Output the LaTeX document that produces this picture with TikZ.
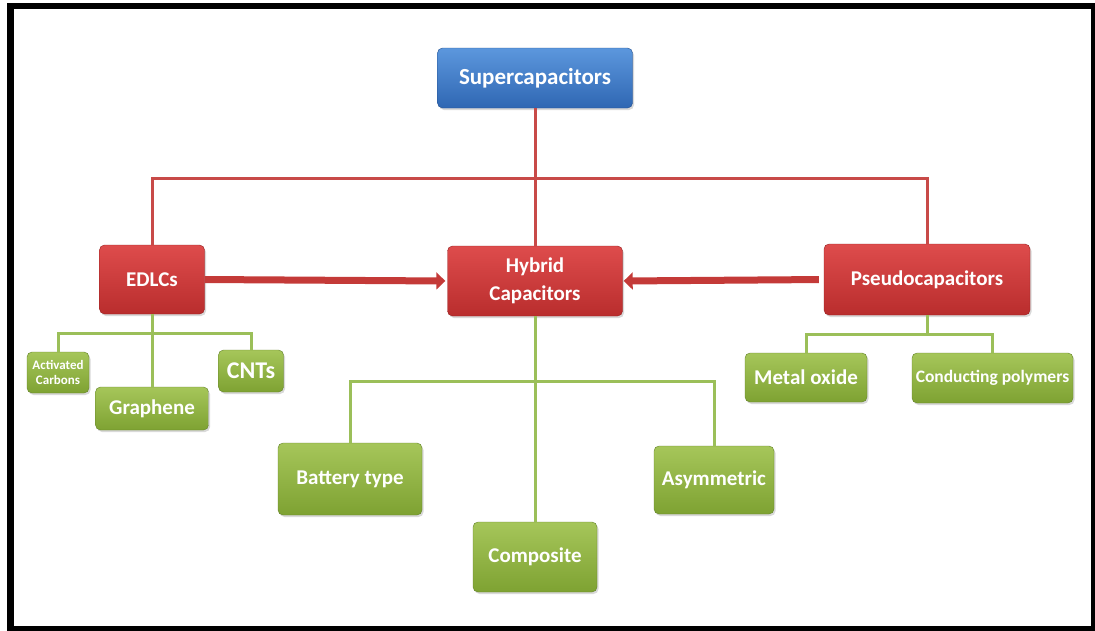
\documentclass[tikz,border=0pt]{standalone}
\usepackage{fontspec}
\setmainfont{Carlito}
\definecolor{bluetop}{HTML}{5C97DD}
\definecolor{bluebot}{HTML}{2F67B3}
\definecolor{blueedge}{HTML}{24508F}
\definecolor{redtop}{HTML}{DE4C4C}
\definecolor{redbot}{HTML}{B92D2D}
\definecolor{rededge}{HTML}{962020}
\definecolor{greentop}{HTML}{A6C65A}
\definecolor{greenbot}{HTML}{7EA232}
\definecolor{greenedge}{HTML}{64832A}
\definecolor{linered}{HTML}{C84A48}
\definecolor{linegreen}{HTML}{9BBF59}
\definecolor{arrowred}{HTML}{C43A38}
\usetikzlibrary{arrows.meta,shadows}

\tikzset{
  box/.style={rounded corners=5pt, text=white, inner sep=1pt, align=center,
    font=\fontsize{21}{28}\selectfont\bfseries,
    drop shadow={shadow xshift=1.5pt, shadow yshift=-2pt, opacity=0.3}},
  bluebox/.style={box, draw=blueedge, top color=bluetop, bottom color=bluebot},
  redbox/.style={box, draw=rededge, top color=redtop, bottom color=redbot},
  greenbox/.style={box, draw=greenedge, top color=greentop, bottom color=greenbot},
  redline/.style={draw=linered, line width=3pt},
  greenline/.style={draw=linegreen, line width=3pt},
  bigarrow/.style={draw=arrowred, line width=7pt, -{Triangle[length=9pt,width=17pt]}}
}

\begin{document}
\begin{tikzpicture}[x=1pt,y=-1pt]
\useasboundingbox (0,0) rectangle (1095,630);
\draw[line width=6.5pt] (10.5,6) rectangle (1094,629);

% top level
\node[bluebox, minimum width=195pt, minimum height=60pt, font=\fontsize{23}{28}\selectfont\bfseries] (super) at (535,78) {Supercapacitors};

% second level
\node[redbox, minimum width=105pt, minimum height=69pt] (edlc) at (152,279.5) {EDLCs};
\node[redbox, minimum width=175pt, minimum height=70pt] (hybrid) at (535,281) {Hybrid\\Capacitors};
\node[redbox, minimum width=206pt, minimum height=71pt] (pseudo) at (927,279.5) {Pseudocapacitors};

\coordinate (rbus) at (535,178);
\draw[redline] (super.south) -- (hybrid.north);
\draw[redline] (edlc.north) |- (rbus) -| (pseudo.north);

\draw[bigarrow, shorten >=2pt] (edlc.east) -- (hybrid.west);
\draw[bigarrow, shorten <=5pt, shorten >=1pt] (pseudo.west) -- (hybrid.east);

% EDLCs
\node[greenbox, minimum width=62pt, minimum height=41pt, font=\fontsize{13}{15}\selectfont\bfseries] (actc) at (58,372.5) {Activated\\Carbons};
\node[greenbox, minimum width=113pt, minimum height=43pt] (graph) at (152,408.5) {Graphene};
\node[greenbox, minimum width=65pt, minimum height=42pt, font=\fontsize{24}{28}\selectfont\bfseries] (cnt) at (251,371) {CNTs};

\coordinate (ebus) at (152,333);
\draw[greenline] (edlc.south) -- (graph.north);
\draw[greenline] (actc.north) |- (ebus) -| (cnt.north);

% hybrid
\node[greenbox, minimum width=144pt, minimum height=72pt] (batt) at (350,479) {Battery type};
\node[greenbox, minimum width=124pt, minimum height=70pt] (comp) at (535,557) {Composite};
\node[greenbox, minimum width=120pt, minimum height=68pt] (asym) at (714,480) {Asymmetric};

\coordinate (hbus) at (535,381);
\draw[greenline] (hybrid.south) -- (comp.north);
\draw[greenline] (batt.north) |- (hbus) -| (asym.north);

% pseudo
\node[greenbox, minimum width=122pt, minimum height=49pt] (metal) at (806,377.5) {Metal oxide};
\node[greenbox, minimum width=161pt, minimum height=50pt, font=\fontsize{17.5}{21}\selectfont\bfseries] (poly) at (992.5,378) {Conducting polymers};

\coordinate (pbus) at (927,334);
\draw[greenline] (metal.north) |- (pbus) -| (poly.north);
\draw[greenline] (pseudo.south) -- (pbus);
\end{tikzpicture}
\end{document}
